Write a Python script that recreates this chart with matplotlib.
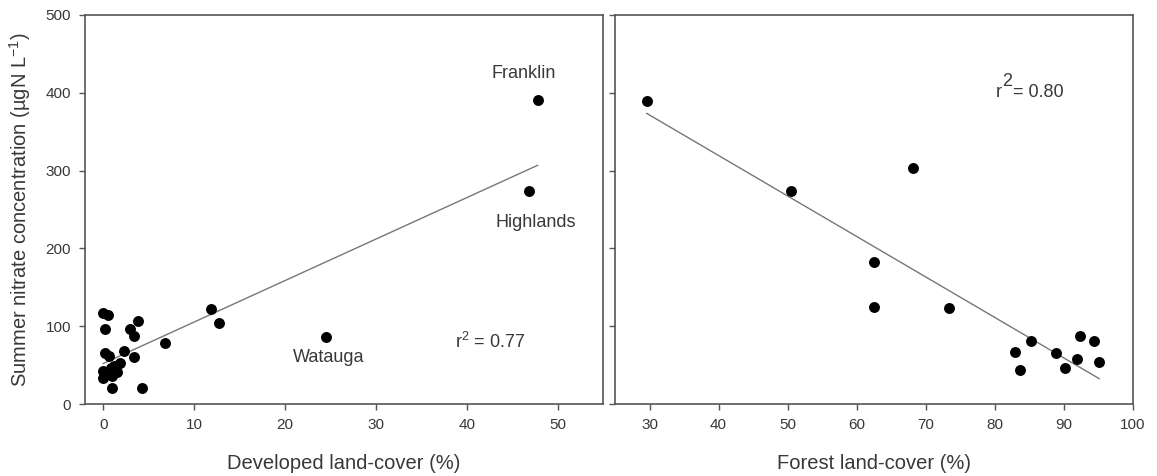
import matplotlib
matplotlib.use("Agg")
import matplotlib.pyplot as plt
import numpy as np

plt.rcParams['font.family'] = ['Liberation Sans', 'DejaVu Sans']

# Left panel: developed land-cover vs summer nitrate
dev_x = [0.0, 0.55, 0.2, 3.8, 2.9, 3.4, 0.2, 0.6, 2.3, 3.4, 1.8, 1.2, 0.0, 0.0,
         1.5, 1.0, 0.9, 1.0, 4.3, 6.8, 11.9, 12.7, 24.5, 47.8, 46.9]
dev_y = [117, 115, 96, 107, 97, 88, 65, 62, 68, 60, 53, 49, 42, 33,
         41, 36, 46, 20, 21, 78, 122, 104, 86, 391, 274]
dev_fit = (5.33, 52.0)      # slope, intercept
dev_r2 = "0.77"

# Right panel: forest land-cover vs summer nitrate
for_x = [29.6, 50.5, 68.2, 62.5, 62.5, 73.3, 82.9, 83.6, 85.3, 88.8, 90.1, 91.9, 92.3, 94.4, 95.1]
for_y = [390, 274, 303, 183, 125, 124, 67, 44, 81, 65, 46, 58, 87, 81, 54]
for_fit = (-5.205, 527.6)
for_r2 = "0.80"

yticks = [0, 100, 200, 300, 400, 500]
dev_ticks = [0, 10, 20, 30, 40, 50]
for_ticks = [30, 40, 50, 60, 70, 80, 90, 100]

W, H = 1157, 476
fig = plt.figure(figsize=(W / 100, H / 100), dpi=100)
axL = fig.add_axes([85 / W, (H - 404) / H, 518 / W, 389 / H])
axR = fig.add_axes([615 / W, (H - 404) / H, 518 / W, 389 / H])

spine_c = '#555555'
text_c = '#383838'
line_c = '#777777'

for ax in (axL, axR):
    for s in ax.spines.values():
        s.set_color(spine_c)
        s.set_linewidth(1.2)
    ax.tick_params(direction='out', length=4, width=1, color=spine_c,
                   labelsize=11, labelcolor=text_c, pad=6)
    ax.set_ylim(0, 500)
    ax.set_yticks(yticks)

# Left
axL.set_xlim(-2, 55)
axL.set_xticks(dev_ticks)
axL.scatter(dev_x, dev_y, s=62, color='black', zorder=3, linewidths=0)
xl = np.array([min(dev_x), max(dev_x)])
axL.plot(xl, dev_fit[0] * xl + dev_fit[1], color=line_c, lw=1.0, zorder=2)
axL.set_xlabel('Developed land-cover (%)', fontsize=14.5, color=text_c, labelpad=16)
axL.set_ylabel('Summer nitrate concentration (µgN L$^{\\mathregular{-1}}$)',
               fontsize=14.5, color=text_c, labelpad=9)
axL.text(46.3, 425, 'Franklin', fontsize=13, color=text_c, ha='center', va='center')
axL.text(47.6, 233, 'Highlands', fontsize=13, color=text_c, ha='center', va='center')
axL.text(24.8, 60, 'Watauga', fontsize=13, color=text_c, ha='center', va='center')
axL.text(38.7, 80, 'r$^{\\mathregular{2}}$ = ' + dev_r2, fontsize=13, color=text_c,
         ha='left', va='center')

# Right
axR.set_xlim(25, 100)
axR.set_xticks(for_ticks)
axR.set_yticklabels([])
axR.scatter(for_x, for_y, s=62, color='black', zorder=3, linewidths=0)
xr = np.array([min(for_x), max(for_x)])
axR.plot(xr, for_fit[0] * xr + for_fit[1], color=line_c, lw=1.0, zorder=2)
axR.set_xlabel('Forest land-cover (%)', fontsize=14.5, color=text_c, labelpad=16)
axR.text(80.1, 400, 'r', fontsize=13, color=text_c, ha='left', va='center')
axR.text(81.1, 415, '2', fontsize=13, color=text_c, ha='left', va='center')
axR.text(82.6, 400, '= ' + for_r2, fontsize=13, color=text_c, ha='left', va='center')

fig.savefig('out.png', dpi=100)
